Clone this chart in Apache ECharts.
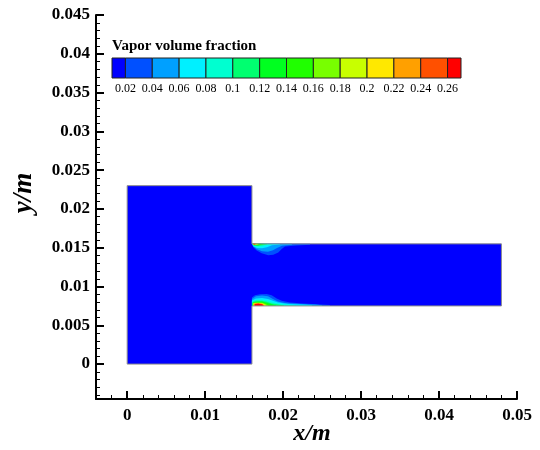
<!DOCTYPE html>
<html>
<head>
<meta charset="utf-8">
<script src="https://cdn.jsdelivr.net/npm/echarts@6/dist/echarts.min.js"></script>
<style>html,body{margin:0;padding:0;background:#fff}#c{width:540px;height:450px}</style>
</head>
<body>
<div id="c"></div>
<script>
// ---- colour legend ----
const cbTitle = 'Vapor volume fraction';
const cbLevels = [0.02,0.04,0.06,0.08,0.10,0.12,0.14,0.16,0.18,0.20,0.22,0.24,0.26];
const cbMin = 0.01, cbMax = 0.27;
const cbColors = ['#0000ff','#0050ff','#00a0ff','#00f0ff','#00ffd0','#00ff70','#00ff20',
                  '#20ff00','#78ff00','#c8ff00','#ffe800','#ffa000','#ff5000','#ff0000'];

// ---- geometry (m) ----
const domainOutline = [[0,0],[0.016,0],[0.016,0.0075],[0.048,0.0075],[0.048,0.0155],
                       [0.016,0.0155],[0.016,0.023],[0,0.023]];

// ---- vapour contours near upper corner: level (>=) and boundary (m) ----
const topLevels = [0.02,0.04,0.06,0.08,0.10,0.12,0.14,0.16,0.18,0.20,0.22,0.24,0.26];
const topPolys = [
  [[0.0160,0.0155],[0.01617,0.01507],[0.01661,0.01464],[0.01725,0.01430],[0.01810,0.01404],[0.01874,0.01408],[0.01938,0.01438],[0.01982,0.01482],[0.02024,0.01515],[0.02174,0.01528],[0.02345,0.01537],[0.02345,0.0155]],
  [[0.0160,0.0155],[0.0162,0.01511],[0.01665,0.01479],[0.01729,0.01453],[0.01806,0.01447],[0.0187,0.01466],[0.01922,0.01498],[0.01986,0.01524],[0.02114,0.01537],[0.02114,0.0155]],
  [[0.0160,0.0155],[0.0162,0.01518],[0.01665,0.01498],[0.01729,0.01492],[0.01793,0.01505],[0.01857,0.01531],[0.0196,0.01542],[0.0196,0.0155]],
  [[0.0160,0.0155],[0.01626,0.01524],[0.01678,0.01511],[0.01742,0.01518],[0.01806,0.01537],[0.01857,0.01546],[0.01857,0.0155]],
  [[0.0160,0.0155],[0.01626,0.01528],[0.01678,0.01522],[0.01742,0.01533],[0.01793,0.01546],[0.01793,0.0155]],
  [[0.0160,0.0155],[0.01626,0.01532],[0.01678,0.01529],[0.01729,0.0154],[0.01755,0.0155]],
  [[0.0160,0.0155],[0.01633,0.01535],[0.01678,0.01535],[0.01716,0.0155]],
  [[0.0160,0.0155],[0.01633,0.01537],[0.01671,0.01538],[0.01703,0.0155]],
  [[0.0160,0.0155],[0.01633,0.01538],[0.01665,0.01541],[0.01691,0.0155]],
  [[0.01605,0.0155],[0.01633,0.0154],[0.01659,0.01544],[0.01678,0.0155]],
  [[0.01607,0.0155],[0.01633,0.01541],[0.01661,0.0155]],
  [[0.0161,0.0155],[0.01633,0.01542],[0.01652,0.0155]],
  [[0.0161,0.0155],[0.01633,0.01543],[0.01646,0.0155]]
];

// ---- vapour contours near lower corner ----
const botLevels = [0.02,0.04,0.06,0.08,0.10,0.12,0.14,0.16,0.18,0.20,0.22,0.24,0.26];
const botPolys = [
  [[0.0160,0.0075],[0.0160,0.00858],[0.01639,0.00888],[0.01703,0.00901],[0.01789,0.00905],[0.01853,0.00888],[0.01918,0.00845],[0.01982,0.00815],[0.02088,0.00794],[0.02259,0.00781],[0.02431,0.00772],[0.02601,0.00763],[0.02601,0.0075]],
  [[0.0160,0.0075],[0.0160,0.0084],[0.01652,0.00873],[0.01729,0.00883],[0.01806,0.00873],[0.0187,0.0084],[0.01934,0.00808],[0.02024,0.00789],[0.02216,0.00776],[0.02409,0.00767],[0.02499,0.0076],[0.02499,0.0075]],
  [[0.0160,0.0075],[0.0160,0.00821],[0.01652,0.00847],[0.01729,0.00853],[0.01806,0.0084],[0.0187,0.00815],[0.01934,0.00793],[0.02063,0.00776],[0.02281,0.00765],[0.0237,0.00759],[0.0237,0.0075]],
  [[0.0160,0.0075],[0.0160,0.00808],[0.01652,0.00827],[0.01729,0.00831],[0.01806,0.00818],[0.0187,0.00795],[0.0196,0.00776],[0.02114,0.00763],[0.02165,0.00756],[0.02165,0.0075]],
  [[0.0160,0.0075],[0.01607,0.00799],[0.01652,0.00815],[0.01729,0.00817],[0.01793,0.00804],[0.01857,0.00782],[0.0196,0.00765],[0.02011,0.00756],[0.02011,0.0075]],
  [[0.01607,0.0075],[0.01614,0.00793],[0.01659,0.00805],[0.01729,0.00807],[0.0178,0.00793],[0.01845,0.00773],[0.01909,0.00756],[0.01909,0.0075]],
  [[0.0161,0.0075],[0.0161,0.0079],[0.01665,0.00798],[0.01729,0.00798],[0.0178,0.00784],[0.01832,0.00763],[0.01845,0.0075]],
  [[0.01614,0.0075],[0.01614,0.00787],[0.01665,0.00793],[0.01729,0.0079],[0.01774,0.00775],[0.01806,0.00756],[0.01812,0.0075]],
  [[0.0162,0.0075],[0.0162,0.00784],[0.01678,0.00789],[0.01742,0.00782],[0.01774,0.00765],[0.01787,0.0075]],
  [[0.01623,0.0075],[0.01623,0.00781],[0.01678,0.00786],[0.01742,0.00778],[0.01768,0.0076],[0.01774,0.0075]],
  [[0.01626,0.0075],[0.01626,0.00778],[0.01678,0.00784],[0.01742,0.00776],[0.01761,0.0075]],
  [[0.01633,0.0075],[0.01633,0.00776],[0.01684,0.00781],[0.01735,0.00773],[0.01755,0.0075]],
  [[0.01639,0.0075],[0.01639,0.00773],[0.01684,0.00778],[0.01729,0.00769],[0.01742,0.0075]]
];

// ---- axes ----
const xMin = -0.004, xMax = 0.05, xStep = 0.01;
const yMin = -0.0045, yMax = 0.045, yStep = 0.005;
const xName = 'x/m', yName = 'y/m';

const FONT = "'Liberation Serif','Times New Roman',serif";

function colorForLevel(v) {
  let idx = 0;
  for (let i = 0; i < cbLevels.length; i++) if (v >= cbLevels[i] - 1e-9) idx = i + 1;
  return cbColors[idx];
}
function stepLabel(step, digits) {
  return function (v) {
    const r = v / step;
    if (Math.abs(r - Math.round(r)) > 1e-6) return '';
    return String(+v.toFixed(digits));
  };
}

const allLevels = topLevels.concat(botLevels);
const allPolys = topPolys.concat(botPolys);
const cbEdges = [cbMin].concat(cbLevels, [cbMax]);

const axisCommon = {
  type: 'value',
  axisLine: { show: true, onZero: false, lineStyle: { color: '#000', width: 2 } },
  axisTick: { show: true, inside: true, length: 8, lineStyle: { color: '#000', width: 2 } },
  minorTick: { show: true, splitNumber: 5, length: 4, lineStyle: { color: '#000', width: 1 } },
  splitLine: { show: false },
  nameTextStyle: { fontFamily: FONT, fontWeight: 'bold', fontStyle: 'italic', fontSize: 24, color: '#000' }
};

const chart = echarts.init(document.getElementById('c'), null, { renderer: 'canvas' });
chart.setOption({
  animation: false,
  backgroundColor: '#fff',
  title: {
    text: cbTitle, left: 112, top: 39, padding: 0,
    textStyle: { fontFamily: FONT, fontWeight: 'bold', fontSize: 15, color: '#000' }
  },
  grid: [
    { left: 96, right: 23, top: 15, bottom: 51, outerBoundsMode: 'none', containLabel: false },
    { left: 112, width: 349, top: 58, height: 20, outerBoundsMode: 'none', containLabel: false }
  ],
  xAxis: [
    Object.assign({}, axisCommon, {
      gridIndex: 0, min: xMin, max: xMax, splitNumber: 5, position: 'bottom',
      name: xName, nameLocation: 'middle', nameGap: 23, nameMoveOverlap: false,
      nameTextStyle: Object.assign({}, axisCommon.nameTextStyle, { padding: [0, 0, 0, 11] }),
      axisLabel: { margin: 8, fontFamily: FONT, fontWeight: 'bold', fontSize: 17, color: '#000',
                   formatter: stepLabel(xStep, 2) }
    }),
    { type: 'value', gridIndex: 1, min: cbMin, max: cbMax, show: false }
  ],
  yAxis: [
    Object.assign({}, axisCommon, {
      gridIndex: 0, min: yMin, max: yMax, splitNumber: 10, position: 'left',
      name: yName, nameLocation: 'middle', nameGap: 58, nameRotate: 90,
      nameTextStyle: Object.assign({}, axisCommon.nameTextStyle, { fontSize: 27, padding: [0, 0, 0, 28] }),
      axisLabel: { margin: 6, fontFamily: FONT, fontWeight: 'bold', fontSize: 17, color: '#000',
                   formatter: stepLabel(yStep, 3) }
    }),
    { type: 'value', gridIndex: 1, min: 0, max: 1, show: false }
  ],
  series: [
    {
      type: 'custom', xAxisIndex: 0, yAxisIndex: 0, silent: true, z: 1,
      data: [[0]],
      renderItem: function (params, api) {
        return { type: 'polygon', shape: { points: domainOutline.map(p => api.coord(p)) },
                 style: { fill: cbColors[0], stroke: null } };
      }
    },
    {
      type: 'custom', xAxisIndex: 0, yAxisIndex: 0, silent: true, z: 2,
      data: allPolys.map((p, i) => [i]),
      renderItem: function (params, api) {
        const i = params.dataIndex;
        return { type: 'polygon', shape: { points: allPolys[i].map(p => api.coord(p)) },
                 style: { fill: colorForLevel(allLevels[i]), stroke: null } };
      }
    },
    {
      type: 'custom', xAxisIndex: 0, yAxisIndex: 0, silent: true, z: 3,
      data: [[0]],
      renderItem: function (params, api) {
        return { type: 'polygon', shape: { points: domainOutline.map(p => api.coord(p)) },
                 style: { fill: null, stroke: '#8c8c8c', lineWidth: 1 } };
      }
    },
    {
      type: 'custom', xAxisIndex: 1, yAxisIndex: 1, silent: true, z: 4,
      data: cbColors.map((c, i) => [i]),
      renderItem: function (params, api) {
        const i = params.dataIndex;
        const a = api.coord([cbEdges[i], 1]);
        const b = api.coord([cbEdges[i + 1], 0]);
        return { type: 'rect', shape: { x: a[0], y: a[1], width: b[0] - a[0], height: b[1] - a[1] },
                 style: { fill: cbColors[i], stroke: '#222', lineWidth: 1 } };
      }
    },
    {
      type: 'custom', xAxisIndex: 1, yAxisIndex: 1, silent: true, z: 5,
      data: cbLevels.map((v, i) => [i]),
      renderItem: function (params, api) {
        const v = cbLevels[params.dataIndex];
        const p = api.coord([v, 0]);
        return { type: 'text', x: p[0], y: p[1] + 11,
                 style: { text: String(+v.toFixed(2)), align: 'center', verticalAlign: 'middle',
                          font: '12px ' + FONT, fill: '#000' } };
      }
    }
  ]
});
</script>
</body>
</html>
